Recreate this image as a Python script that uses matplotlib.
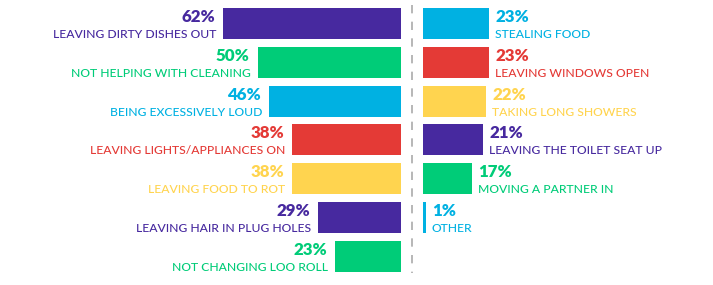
import matplotlib
matplotlib.use("Agg")
import matplotlib.pyplot as plt
from matplotlib.lines import Line2D

left_labels = ["LEAVING DIRTY DISHES OUT", "NOT HELPING WITH CLEANING", "BEING EXCESSIVELY LOUD",
               "LEAVING LIGHTS/APPLIANCES ON", "LEAVING FOOD TO ROT", "LEAVING HAIR IN PLUG HOLES",
               "NOT CHANGING LOO ROLL"]
left_values = [62, 50, 46, 38, 38, 29, 23]
right_labels = ["STEALING FOOD", "LEAVING WINDOWS OPEN", "TAKING LONG SHOWERS",
                "LEAVING THE TOILET SEAT UP", "MOVING A PARTNER IN", "OTHER"]
right_values = [23, 23, 22, 21, 17, 1]

PURPLE = "#47299f"
GREEN = "#00cc78"
BLUE = "#00b1e2"
RED = "#e43a36"
YELLOW = "#ffd44f"
left_colors = [PURPLE, GREEN, BLUE, RED, YELLOW, PURPLE, GREEN]
right_colors = [BLUE, RED, YELLOW, PURPLE, GREEN, BLUE]

W, H = 713, 285
fig = plt.figure(figsize=(W / 100, H / 100), dpi=100)
plt.rcParams['font.family'] = ['Lato', 'DejaVu Sans']

px_per_pct = 2.87
row0 = 23.5
pitch = 38.8
ylim = ((H - row0) / pitch, -row0 / pitch)
bar_h = 31 / pitch

PCT_FS = 12.2
LAB_FS = 8.7

# left axes
lx1 = 401
axL = fig.add_axes([0, 0, lx1 / W, 1])
axL.set_xlim(lx1 / px_per_pct, 0)
axL.set_ylim(*ylim)
axL.axis("off")
yL = list(range(len(left_values)))
axL.barh(yL, left_values, height=bar_h, color=left_colors, left=0)
for y, v, lab, c in zip(yL, left_values, left_labels, left_colors):
    axL.annotate(f"{v}%", (v, y), xytext=(-8, 1.5), textcoords="offset pixels",
                 ha="right", va="baseline", fontsize=PCT_FS, fontweight="heavy", color=c)
    axL.annotate(lab, (v, y), xytext=(-7, -14.5), textcoords="offset pixels",
                 ha="right", va="baseline", fontsize=LAB_FS, fontweight="medium", color=c)

# right axes
rx0 = 423
axR = fig.add_axes([rx0 / W, 0, (W - rx0) / W, 1])
axR.set_xlim(0, (W - rx0) / px_per_pct)
axR.set_ylim(*ylim)
axR.axis("off")
yR = list(range(len(right_values)))
axR.barh(yR, right_values, height=bar_h, color=right_colors, left=0)
for y, v, lab, c in zip(yR, right_values, right_labels, right_colors):
    axR.annotate(f"{v}%", (v, y), xytext=(6, 1.5), textcoords="offset pixels",
                 ha="left", va="baseline", fontsize=PCT_FS, fontweight="heavy", color=c)
    axR.annotate(lab, (v, y), xytext=(6, -14.5), textcoords="offset pixels",
                 ha="left", va="baseline", fontsize=LAB_FS, fontweight="medium", color=c)

# dashed divider
fig.add_artist(Line2D([412 / W, 412 / W], [1 - 5 / H, 1 - 273 / H], transform=fig.transFigure,
                      color="#aaaaaa", lw=1.2, linestyle=(0, (5, 5))))

fig.savefig("out.png", dpi=100)
